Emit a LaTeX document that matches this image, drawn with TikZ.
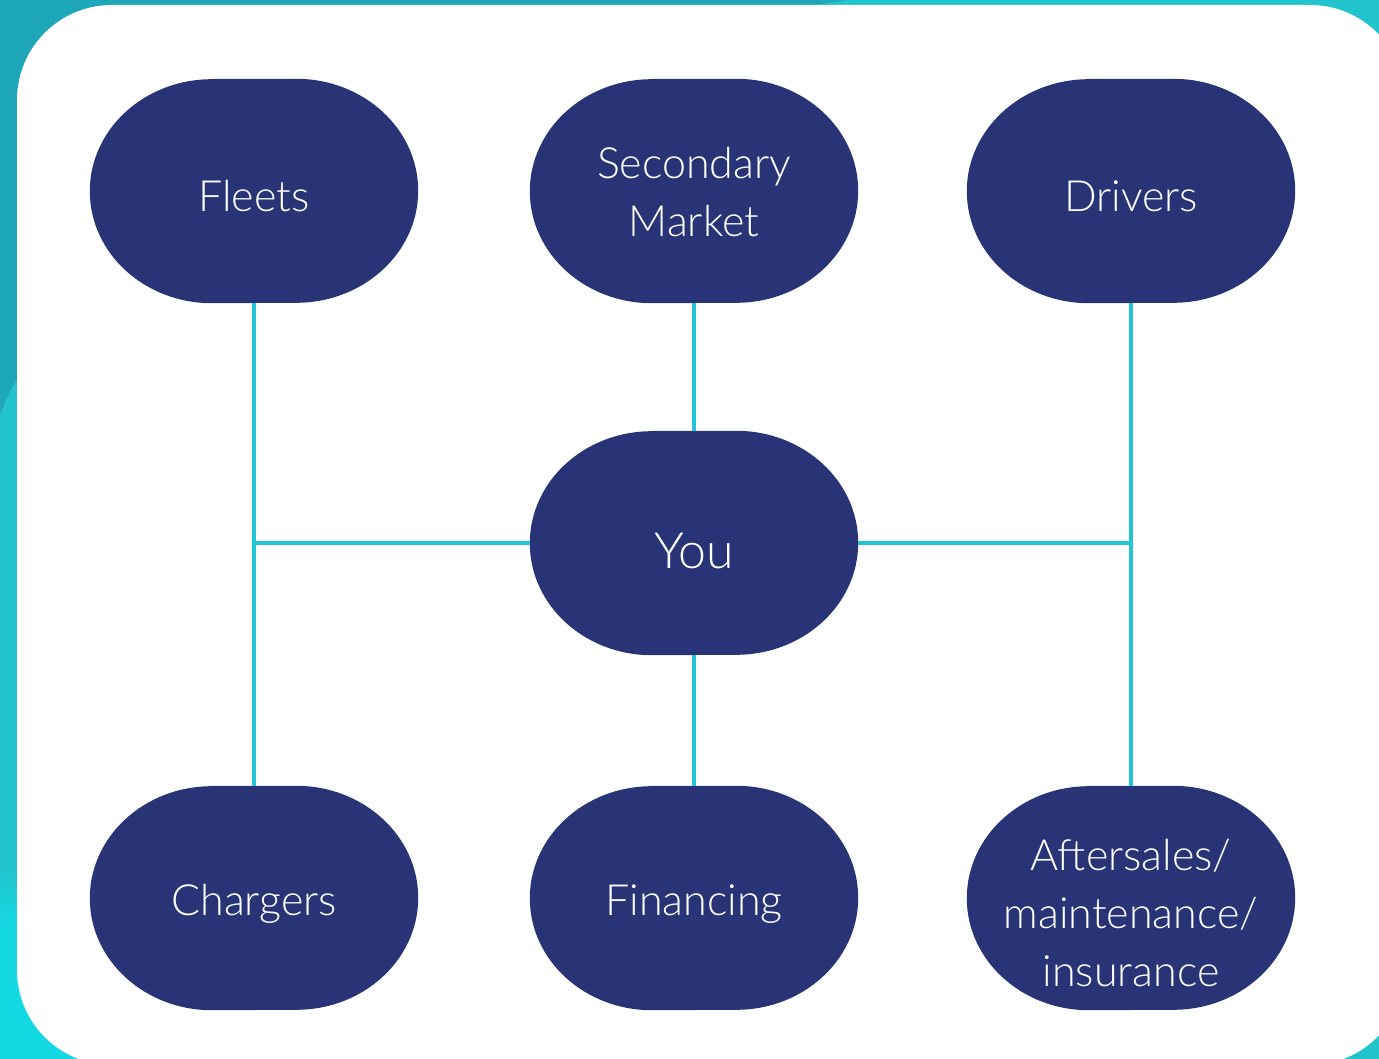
\documentclass[tikz,border=0pt]{standalone}
\usepackage{fontspec}
\setmainfont{Lato}[UprightFont=* Light]
\definecolor{navy}{HTML}{293476}
\definecolor{linkc}{HTML}{22C5D5}
\definecolor{tealdark}{HTML}{1EA7B8}
\definecolor{bgteal}{HTML}{21C4CD}
\definecolor{cyanbright}{HTML}{14D8E2}
\newcommand\pillfill[1]{%
  \fill[navy] ([xshift=122pt]#1.north west) -- ([xshift=-122pt]#1.north east)
    arc[start angle=90, end angle=0, x radius=122pt, y radius=112pt]
    arc[start angle=0, end angle=-90, x radius=122pt, y radius=112pt]
    -- ([xshift=122pt]#1.south west)
    arc[start angle=-90, end angle=-180, x radius=122pt, y radius=112pt]
    arc[start angle=180, end angle=90, x radius=122pt, y radius=112pt] -- cycle;}
\begin{document}
\begin{tikzpicture}[x=1pt,y=-1pt,
  pill/.style={minimum width=328pt, minimum height=224pt, inner sep=0pt},
  pilltext/.style={text=white, align=center, inner sep=0pt, font=\fontsize{43}{58}\selectfont},
  link/.style={draw=linkc, line width=3.5pt}]
\useasboundingbox (0,0) rectangle (1379,1059);
% background
\fill[bgteal] (0,0) rectangle (1379,1059);
\fill[tealdark] (0,0) -- (845,0) .. controls (500,60) and (80,200) .. (0,415) -- cycle;
\shade[top color=bgteal, bottom color=cyanbright] (0,870) rectangle (60,925);
\fill[cyanbright] (0,925) rectangle (120,1059);
\fill[white, rounded corners=95pt] (17,5) rectangle (1405,1065);
% nodes
\node[pill] (fleets) at (254,191) {};
\node[pill] (secondary) at (694,191) {};
\node[pill] (drivers) at (1131,191) {};
\node[pill] (you) at (694,543) {};
\node[pill] (chargers) at (254,898) {};
\node[pill] (financing) at (694,898) {};
\node[pill] (aftersales) at (1131,898) {};
\foreach \n in {fleets,secondary,drivers,you,chargers,financing,aftersales}{\pillfill{\n}}
% texts
\node[pilltext] (tfleets) at ([yshift=-5pt]fleets.center) {Fleets};
\node[pilltext] (tsecondary) at ([yshift=-1pt]secondary.center) {Secondary\\Market};
\node[pilltext] (tdrivers) at ([yshift=-5pt]drivers.center) {Drivers};
\node[pilltext, font=\fontsize{50}{58}\selectfont] (tyou) at ([yshift=-8pt]you.center) {You};
\node[pilltext] (tchargers) at ([yshift=-6pt]chargers.center) {Chargers};
\node[pilltext] (tfinancing) at ([yshift=-6pt]financing.center) {Financing};
\node[pilltext] (taftersales) at ([yshift=-15pt]aftersales.center) {Aftersales/\\maintenance/\\insurance};
% connectors
\coordinate (jl) at (fleets.south |- you.west);
\coordinate (jr) at (drivers.south |- you.east);
\draw[link] (fleets.south) -- (chargers.north);
\draw[link] (drivers.south) -- (aftersales.north);
\draw[link] (jl) -- (you.west);
\draw[link] (you.east) -- (jr);
\draw[link] (secondary.south) -- (you.north);
\draw[link] (you.south) -- (financing.north);
\end{tikzpicture}
\end{document}
